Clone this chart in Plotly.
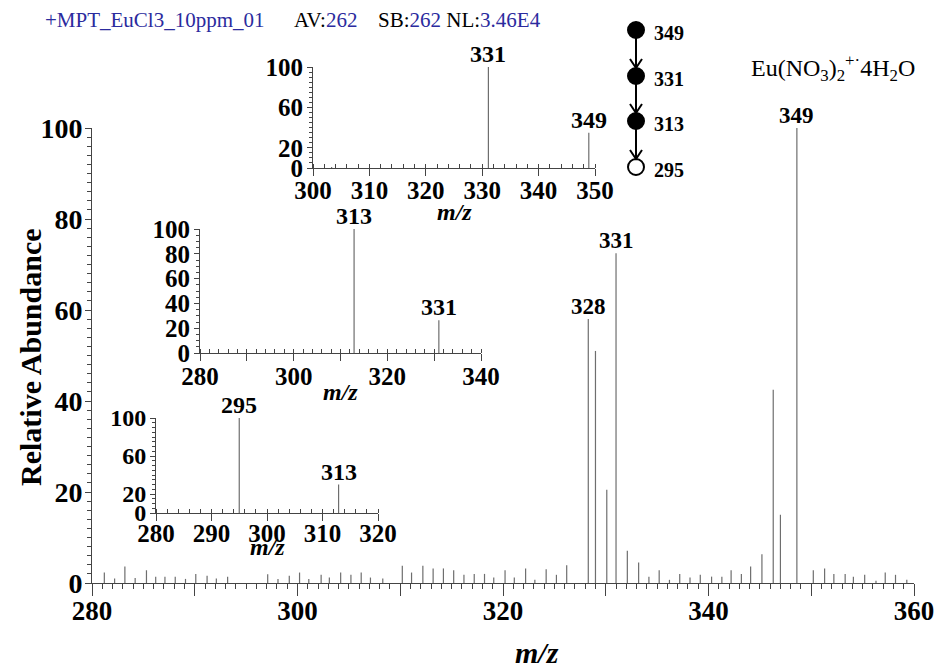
import plotly.graph_objects as go

W, H = 937, 672
SERIF = "Liberation Serif"
BLUE = "#2b2b9e"
PEAK = "#6e6e6e"
AXC = "#444444"

# ---------------- data ----------------
main_mz = [281.2, 282.2, 283.2, 284.2, 285.3, 286.2, 287.1, 288.1, 289.1, 290.1,
           291.2, 292.1, 293.2, 297.1, 298.1, 299.2, 300.2, 301.1, 302.3, 303.1,
           304.2, 305.2, 306.2, 307.1, 308.3, 310.2, 311.1, 312.2, 313.2, 314.2,
           315.2, 316.2, 317.2, 318.2, 319.1, 320.2, 321.1, 322.2, 323.1, 324.2,
           325.2, 326.2, 328.3, 329.0, 330.1, 331.0, 332.1, 333.2, 334.2, 335.2,
           336.2, 337.2, 338.2, 339.2, 340.3, 341.3, 342.2, 343.2, 344.1, 345.2,
           346.3, 347.0, 348.6, 350.2, 351.3, 352.2, 353.3, 354.1, 355.2, 356.3,
           357.2, 358.2, 359.3]
main_int = [2.3, 1.0, 3.6, 1.1, 2.8, 1.4, 1.4, 1.4, 0.9, 2.0,
            1.6, 1.0, 1.4, 1.9, 0.9, 1.6, 2.3, 0.9, 1.8, 1.2,
            2.3, 1.8, 2.3, 1.2, 1.0, 3.8, 2.3, 3.8, 3.2, 3.2,
            2.8, 1.8, 2.0, 2.0, 1.2, 2.8, 1.2, 3.2, 0.7, 3.0,
            1.8, 3.9, 58.0, 51.0, 20.5, 72.5, 7.1, 4.5, 1.4, 2.8,
            0.7, 2.0, 1.2, 1.8, 1.4, 1.4, 2.8, 2.0, 3.6, 6.3,
            42.5, 15.0, 100.0, 2.8, 3.2, 2.0, 2.0, 1.4, 1.8, 0.5,
            2.3, 1.8, 0.7]
main_label_mz = [328.3, 331.0, 348.6]
main_label_int = [58.0, 72.5, 100.0]
main_label_txt = ["328", "331", "349"]

ms2_mz = [303.3, 331.1, 348.9]
ms2_int = [1.0, 100.0, 35.0]
ms2_label_mz = [331.1, 348.9]
ms2_label_int = [100.0, 35.0]
ms2_label_txt = ["331", "349"]

ms3_mz = [312.9, 331.0]
ms3_int = [100.0, 26.5]
ms3_label_txt = ["313", "331"]

ms4_mz = [295.0, 312.9]
ms4_int = [100.0, 30.0]
ms4_label_txt = ["295", "313"]

main_xticks = list(range(280, 361, 10))
main_yticks = [0, 20, 40, 60, 80, 100]
ms2_xticks = [300, 310, 320, 330, 340, 350]
ms2_yticks = [0, 20, 60, 100]
ms3_xticks = [280, 290, 300, 310, 320, 330, 340]
ms3_xlabels = [280, 300, 320, 340]
ms3_yticks = [0, 20, 40, 60, 80, 100]
ms4_xticks = [280, 290, 300, 310, 320]
ms4_yticks = [0, 20, 60, 100]

scheme_mz = ["349", "331", "313", "295"]
header_file = "+MPT_EuCl3_10ppm_01"
header_av = "262"
header_sb = "262"
header_nl = "3.46E4"


def fx(p):
    return p / W


def fy(p):
    return 1 - p / H


def stems(mz, inten):
    xs, ys = [], []
    for m, v in zip(mz, inten):
        xs += [m, m, None]
        ys += [0, v, None]
    return xs, ys


fig = go.Figure()

for i, (mz, it) in enumerate([(main_mz, main_int), (ms2_mz, ms2_int),
                              (ms3_mz, ms3_int), (ms4_mz, ms4_int)]):
    xs, ys = stems(mz, it)
    sfx = "" if i == 0 else str(i + 1)
    fig.add_trace(go.Scatter(x=xs, y=ys, mode="lines",
                             line=dict(color=PEAK, width=1.2),
                             xaxis="x" + sfx, yaxis="y" + sfx,
                             cliponaxis=False, showlegend=False,
                             hoverinfo="skip"))


def bold(size):
    return dict(family=SERIF, size=size, color="black", weight="bold")


def xax(domain, anchor, rng, tickvals, ticktext, font, ticklen, minor_dt,
        minor_len, minor_side, standoff):
    return dict(domain=domain, anchor=anchor, range=rng, tickmode="array",
                tickvals=tickvals, ticktext=ticktext, ticks="outside",
                ticklen=ticklen, tickwidth=1, tickcolor=AXC,
                minor=dict(tickmode="linear", tick0=rng[0], dtick=minor_dt,
                           ticks=minor_side, ticklen=minor_len, tickwidth=1,
                           tickcolor=AXC, showgrid=False),
                showline=True, linecolor=AXC, linewidth=1, showgrid=False,
                zeroline=False, tickfont=font, ticklabelstandoff=standoff,
                fixedrange=True, automargin=False)


def yax(domain, anchor, tickvals, font, ticklen, minor_dt, minor_len, standoff):
    return dict(domain=domain, anchor=anchor, range=[0, 100], tickmode="array",
                tickvals=tickvals, ticktext=[str(v) for v in tickvals],
                ticks="outside", ticklen=ticklen, tickwidth=1, tickcolor=AXC,
                minor=dict(tickmode="linear", tick0=0, dtick=minor_dt,
                           ticks="outside", ticklen=minor_len, tickwidth=1,
                           tickcolor=AXC, showgrid=False),
                showline=True, linecolor=AXC, linewidth=1, showgrid=False,
                zeroline=False, tickfont=font, ticklabelstandoff=standoff,
                fixedrange=True, automargin=False)


main_xtext = [str(v) if v % 20 == 0 else "" for v in main_xticks]
ms3_xtext = [str(v) if v in ms3_xlabels else "" for v in ms3_xticks]

fig.update_layout(
    xaxis=xax([fx(92), fx(914)], "y", [280, 360], main_xticks, main_xtext,
              bold(27), 12, 1, 5, "outside", -8),
    yaxis=yax([fy(583), fy(128)], "x", main_yticks, bold(28), 6, 2, 4, -3),
    xaxis2=xax([fx(313), fx(595)], "y2", [300, 350], ms2_xticks,
               [str(v) for v in ms2_xticks], bold(25), 7, 2, 4, "inside", -7),
    yaxis2=yax([fy(168), fy(67)], "x2", ms2_yticks, bold(25), 5, 5, 3, -1),
    xaxis3=xax([fx(200), fx(481)], "y3", [280, 340], ms3_xticks, ms3_xtext,
               bold(25), 7, 2, 4, "inside", -6),
    yaxis3=yax([fy(353), fy(229)], "x3", ms3_yticks, bold(25), 5, 5, 3, -1),
    xaxis4=xax([fx(156), fx(378)], "y4", [280, 320], ms4_xticks,
               [str(v) for v in ms4_xticks], bold(25), 7, 2, 4, "inside", -9),
    yaxis4=yax([fy(513), fy(418)], "x4", ms4_yticks, bold(24), 5, 5, 3, -1),
)

ann = []
# peak labels
for xr, yr, mzs, its, txt, sz in [
        ("x", "y", main_label_mz, main_label_int, main_label_txt, 23),
        ("x2", "y2", ms2_label_mz, ms2_label_int, ms2_label_txt, 24),
        ("x3", "y3", ms3_mz, ms3_int, ms3_label_txt, 24),
        ("x4", "y4", ms4_mz, ms4_int, ms4_label_txt, 24)]:
    for m, v, t in zip(mzs, its, txt):
        ann.append(dict(xref=xr, yref=yr, x=m, y=v, text=t, showarrow=False,
                        xanchor="center", yanchor="bottom", yshift=-2,
                        font=bold(sz)))


def pann(x, y, text, font, xanchor="center", **kw):
    d = dict(xref="paper", yref="paper", x=fx(x), y=fy(y), text=text,
             showarrow=False, xanchor=xanchor, yanchor="middle", font=font)
    d.update(kw)
    return d


# axis titles
ann.append(pann(537, 652, "<b><i>m/z</i></b>",
                dict(family=SERIF, size=30, color="black")))
ann.append(pann(30, 357, "<b>Relative Abundance</b>",
                dict(family=SERIF, size=30, color="black"), textangle=-90))
for cx, cy in [(454, 212), (340, 392), (267, 547)]:
    ann.append(pann(cx, cy, "<b><i>m/z</i></b>",
                    dict(family=SERIF, size=24, color="black")))

# header
hfont = dict(family=SERIF, size=21, color="black")
ann.append(pann(43, 20, header_file, dict(family=SERIF, size=21, color=BLUE),
                xanchor="left"))
ann.append(pann(292, 20, "AV:<span style='color:%s'>%s</span>" % (BLUE, header_av),
                hfont, xanchor="left"))
ann.append(pann(376, 20,
                "SB:<span style='color:%s'>%s</span> NL:<span style='color:%s'>%s</span>"
                % (BLUE, header_sb, BLUE, header_nl), hfont, xanchor="left"))

# formula
ann.append(pann(749, 68,
                "Eu(NO<sub>3</sub>)<sub>2</sub><sup>+·</sup>4H<sub>2</sub>O",
                dict(family=SERIF, size=24, color="black"), xanchor="left"))

# fragmentation scheme
shapes = []
cx = 636
cys = [30, 76, 121, 167]
r = 8
for k, (cy, lab) in enumerate(zip(cys, scheme_mz)):
    filled = k < 3
    shapes.append(dict(type="circle", xref="paper", yref="paper",
                       x0=fx(cx - r), x1=fx(cx + r), y0=fy(cy + r), y1=fy(cy - r),
                       line=dict(color="black", width=2),
                       fillcolor="black" if filled else "white"))
    ann.append(pann(652, cy + 3, lab, bold(20), xanchor="left"))
for a, b in zip(cys[:-1], cys[1:]):
    top = a + r
    tip = b - r
    shapes.append(dict(type="line", xref="paper", yref="paper",
                       x0=fx(cx), x1=fx(cx), y0=fy(top), y1=fy(tip),
                       line=dict(color="black", width=2)))
    shapes.append(dict(type="path", xref="paper", yref="paper",
                       path="M %f %f L %f %f L %f %f" % (
                           fx(cx - 6), fy(tip - 9), fx(cx), fy(tip),
                           fx(cx + 6), fy(tip - 9)),
                       line=dict(color="black", width=2)))

fig.update_layout(
    width=W, height=H, autosize=False,
    margin=dict(l=0, r=0, t=0, b=0),
    paper_bgcolor="white", plot_bgcolor="white",
    showlegend=False,
    annotations=ann, shapes=shapes,
)

fig.write_html("out.html")
